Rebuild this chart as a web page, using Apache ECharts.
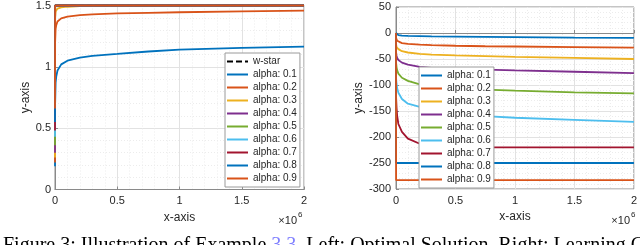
<!DOCTYPE html>
<html><head><meta charset="utf-8">
<script src="https://cdn.jsdelivr.net/npm/echarts@6/dist/echarts.min.js"></script>
<style>html,body{margin:0;padding:0;background:#fff}#c{width:640px;height:245px}</style>
</head><body><div id="c"></div>
<script>
const xVals = [0, 1000, 5000, 10000, 20000, 50000, 100000, 200000, 300000, 500000, 750000, 1000000, 1500000, 2000000];
const alphaNames = ['alpha: 0.1','alpha: 0.2','alpha: 0.3','alpha: 0.4','alpha: 0.5','alpha: 0.6','alpha: 0.7','alpha: 0.8','alpha: 0.9'];
const colors = ['#0072BD','#D95319','#EDB120','#7E2F8E','#77AC30','#4DBEEE','#A2142F','#0072BD','#D95319'];
const wStar = [1.5, 1.5, 1.5, 1.5, 1.5, 1.5, 1.5, 1.5, 1.5, 1.5, 1.5, 1.5, 1.5, 1.5];
// left: optimal solution
const left01 = [0.19, 0.70, 0.87, 0.92, 0.97, 1.02, 1.05, 1.075, 1.09, 1.105, 1.125, 1.14, 1.155, 1.165];
const left02 = [0.22, 1.20, 1.31, 1.34, 1.37, 1.395, 1.41, 1.422, 1.428, 1.435, 1.44, 1.445, 1.452, 1.458];
const left03 = [0.26, 1.40, 1.45, 1.465, 1.475, 1.485, 1.49, 1.495, 1.497, 1.498, 1.499, 1.5, 1.5, 1.5];
const left04 = [0.30, 1.49, 1.5, 1.5, 1.5, 1.5, 1.5, 1.5, 1.5, 1.5, 1.5, 1.5, 1.5, 1.5];
const left05 = [0.36, 1.5, 1.5, 1.5, 1.5, 1.5, 1.5, 1.5, 1.5, 1.5, 1.5, 1.5, 1.5, 1.5];
const left06 = [0.43, 1.5, 1.5, 1.5, 1.5, 1.5, 1.5, 1.5, 1.5, 1.5, 1.5, 1.5, 1.5, 1.5];
const left07 = [0.48, 1.5, 1.5, 1.5, 1.5, 1.5, 1.5, 1.5, 1.5, 1.5, 1.5, 1.5, 1.5, 1.5];
const left08 = [0.55, 1.5, 1.5, 1.5, 1.5, 1.5, 1.5, 1.5, 1.5, 1.5, 1.5, 1.5, 1.5, 1.5];
const left09 = [0.66, 1.5, 1.5, 1.5, 1.5, 1.5, 1.5, 1.5, 1.5, 1.5, 1.5, 1.5, 1.5, 1.5];
// right: learning curve
const right01 = [0, -2, -3, -3.5, -4, -5, -5.5, -6, -6.5, -7, -7.5, -8, -9, -9.5];
const right02 = [0, -10, -13, -15, -17, -19.5, -21, -22.5, -23.5, -24.5, -25.5, -26, -27, -28];
const right03 = [0, -22, -27, -29, -31, -35, -37.5, -40, -41.5, -43, -44.5, -46, -48, -50];
const right04 = [0, -38, -44, -48, -52, -57, -61, -65, -67, -69, -70.5, -72, -74.5, -77];
const right05 = [0, -58, -66, -72, -78, -86, -92, -99, -102, -106, -109, -111, -114, -116];
const right06 = [0, -88, -98, -106, -115, -127, -136, -142, -150, -157, -160, -163, -167, -171];
const right07 = [0, -125, -145, -160, -175, -190, -203, -213, -217, -219, -220, -220, -220, -220];
const right08 = [0, -250, -250, -250, -250, -250, -250, -250, -250, -250, -250, -250, -250, -250];
const right09 = [0, -283, -283, -283, -283, -283, -283, -283, -283, -283, -283, -283, -283, -283];
const xTickLabels = ['0', '0.5', '1', '1.5', '2'];

const leftSeriesVals = [left01, left02, left03, left04, left05, left06, left07, left08, left09];
const rightSeriesVals = [right01, right02, right03, right04, right05, right06, right07, right08, right09];
const pairs = v => xVals.map((x, i) => [x, v[i]]);

const FONT = '"Liberation Sans", Arial, sans-serif';
const axisGray = '#8a8a8a';
const txt = '#262626';

function xAxisCfg(gi) {
  return {
    type: 'value', gridIndex: gi, min: 0, max: 2000000, interval: 500000,
    name: 'x-axis', nameLocation: 'middle', nameGap: 21,
    nameTextStyle: { color: txt, fontSize: 12, fontFamily: FONT },
    axisLine: { show: true, lineStyle: { color: axisGray, width: 1 } },
    axisTick: { show: true, inside: true, length: 3, lineStyle: { color: axisGray } },
    axisLabel: { color: txt, fontSize: 11, fontFamily: FONT, margin: 6,
      formatter: v => xTickLabels[Math.round(v / 500000)] },
    splitLine: { show: true, lineStyle: { color: '#e2e2e2', width: 1 } },
    minorTick: { show: false, splitNumber: 5 },
    minorSplitLine: { show: true, lineStyle: { color: '#ececec', width: 1, type: [1, 2] } }
  };
}
function yAxisCfg(gi, min, max, interval, gap, margin) {
  return {
    type: 'value', gridIndex: gi, min: min, max: max, interval: interval,
    name: 'y-axis', nameLocation: 'middle', nameGap: gap,
    nameTextStyle: { color: txt, fontSize: 12, fontFamily: FONT },
    axisLine: { show: true, lineStyle: { color: axisGray, width: 1 } },
    axisTick: { show: true, inside: true, length: 3, lineStyle: { color: axisGray } },
    axisLabel: { color: txt, fontSize: 11, fontFamily: FONT, margin: margin },
    splitLine: { show: true, lineStyle: { color: '#e2e2e2', width: 1 } },
    minorTick: { show: false, splitNumber: 5 },
    minorSplitLine: { show: true, lineStyle: { color: '#ececec', width: 1, type: [1, 2] } }
  };
}

const series = [];
series.push({ name: 'w-star', type: 'line', xAxisIndex: 0, yAxisIndex: 0, data: pairs(wStar),
  symbol: 'none', clip: false, color: '#000', lineStyle: { color: '#000', width: 1.8, type: [5, 3] } });
leftSeriesVals.forEach((v, i) => series.push({ name: alphaNames[i], type: 'line', xAxisIndex: 0, yAxisIndex: 0,
  data: pairs(v), symbol: 'none', clip: false, color: colors[i], lineStyle: { color: colors[i], width: 1.8 } }));
rightSeriesVals.forEach((v, i) => series.push({ name: alphaNames[i], type: 'line', xAxisIndex: 1, yAxisIndex: 1,
  data: pairs(v), symbol: 'none', clip: false, color: colors[i], lineStyle: { color: colors[i], width: 1.8 } }));

const dashIcon = 'path://M0,0h6v2h-6z M9,0h6v2h-6z M18,0h3v2h-3z';
function legendCfg(left, top, names) {
  return {
    left: left, top: top, orient: 'vertical',
    data: names.map(n => ({ name: n, icon: n === 'w-star' ? dashIcon : 'rect' })),
    selectedMode: false, symbolKeepAspect: false,
    itemWidth: 21, itemHeight: 2, itemGap: 0, padding: [2, 3, 2, 2],
    backgroundColor: '#fff', borderColor: '#9a9a9a', borderWidth: 1,
    textStyle: { color: txt, fontSize: 10, fontFamily: FONT, lineHeight: 13, height: 13 }
  };
}

const chart = echarts.init(document.getElementById('c'), null, { renderer: 'canvas' });
chart.setOption({
  animation: false,
  backgroundColor: '#fff',
  grid: [
    { left: 55, right: 336, top: 4, bottom: 55.5, show: true, borderColor: axisGray, borderWidth: 1, backgroundColor: 'transparent' },
    { left: 396, right: 4, top: 7, bottom: 56, show: true, borderColor: axisGray, borderWidth: 1, backgroundColor: 'transparent' }
  ],
  xAxis: [xAxisCfg(0), xAxisCfg(1)],
  yAxis: [yAxisCfg(0, 0, 1.5, 0.5, 15, 4), yAxisCfg(1, -300, 50, 50, 20, 5)],
  legend: [legendCfg(225, 53, ['w-star'].concat(alphaNames)), legendCfg(419, 67, alphaNames)],
  series: series,
  graphic: [
    { type: 'text', right: 640 - 297, top: 215, style: { text: '×10', fill: txt, fontSize: 11, fontFamily: FONT } },
    { type: 'text', left: 298, top: 211, style: { text: '6', fill: txt, fontSize: 8, fontFamily: FONT } },
    { type: 'text', right: 640 - 630, top: 215, style: { text: '×10', fill: txt, fontSize: 11, fontFamily: FONT } },
    { type: 'text', left: 631, top: 211, style: { text: '6', fill: txt, fontSize: 8, fontFamily: FONT } },
    { type: 'text', left: 3, top: 235.5, style: {
      text: 'Figure 3: Illustration of Example {b|3.3}. Left: Optimal Solution. Right: Learning Curve.',
      fill: '#000', fontSize: 20, fontFamily: '"Liberation Serif", "DejaVu Serif", serif',
      rich: { b: { fill: '#8080ff', fontSize: 20, fontFamily: '"Liberation Serif", serif' } } } }
  ]
});
</script>
</body></html>
